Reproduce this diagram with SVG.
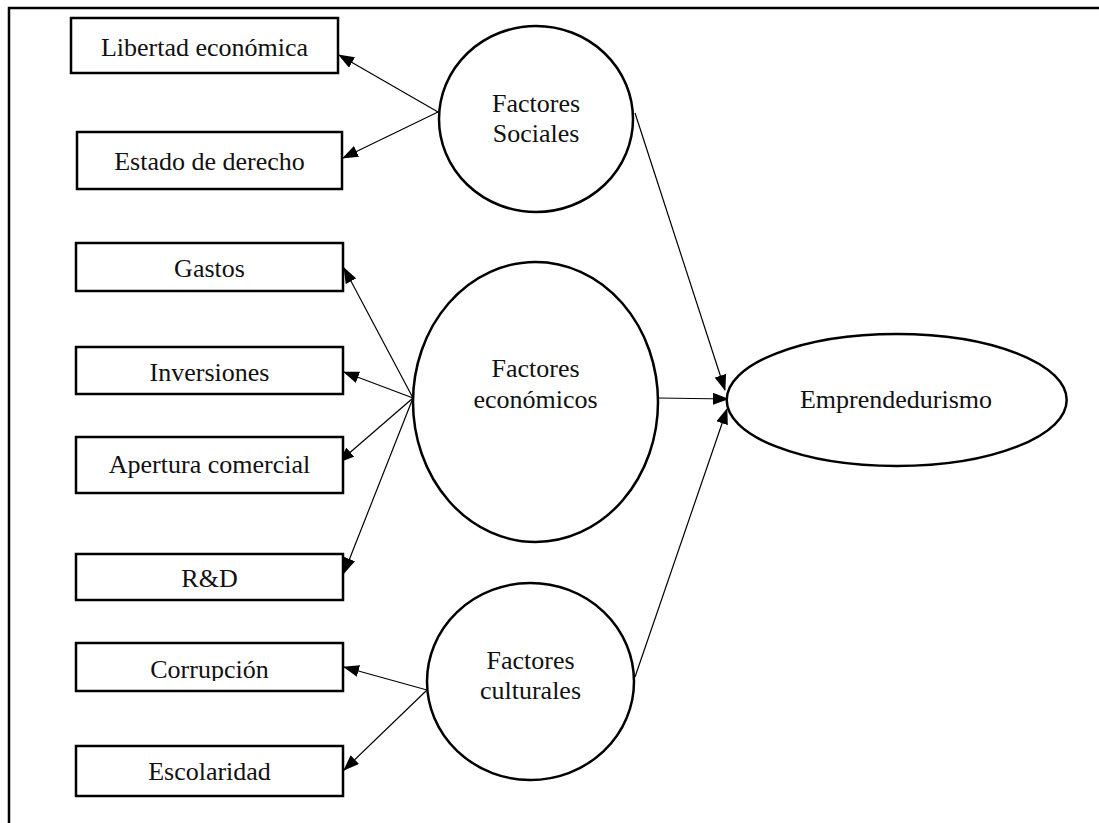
<svg xmlns="http://www.w3.org/2000/svg" width="1099" height="823" viewBox="0 0 1099 823">
<style>
.box{fill:#fff;stroke:#000;stroke-width:2.5}
.oval{fill:#fff;stroke:#000;stroke-width:2.5}
.t{font-family:"Liberation Serif","Times New Roman",serif;font-size:26px;fill:#111;text-anchor:middle}
.c{fill:none;stroke:#000;stroke-width:1.2}
</style>
<defs>
<marker id="ah" markerUnits="userSpaceOnUse" markerWidth="16" markerHeight="12" refX="15" refY="6" orient="auto">
<path d="M0,0 L16,6 L0,12 z" fill="#000"/>
</marker>
<clipPath id="clipCorr"><rect x="70" y="640" width="280" height="41"/></clipPath>
</defs>
<rect width="1099" height="823" fill="#fff"/>
<g id="frame">
<path d="M9,823 V8 H1099" fill="none" stroke="#000" stroke-width="2.5"/>
</g>
<g id="connectors">
<line class="c" x1="438" y1="112" x2="339" y2="55" marker-end="url(#ah)"/>
<line class="c" x1="438" y1="112" x2="343" y2="158" marker-end="url(#ah)"/>
<line class="c" x1="413" y1="398" x2="344" y2="268" marker-end="url(#ah)"/>
<line class="c" x1="413" y1="398" x2="344" y2="372" marker-end="url(#ah)"/>
<line class="c" x1="413" y1="398" x2="339" y2="462" marker-end="url(#ah)"/>
<line class="c" x1="413" y1="398" x2="344" y2="573" marker-end="url(#ah)"/>
<line class="c" x1="427" y1="690" x2="344" y2="667" marker-end="url(#ah)"/>
<line class="c" x1="427" y1="690" x2="344" y2="770" marker-end="url(#ah)"/>
<line class="c" x1="635" y1="113" x2="725" y2="390" marker-end="url(#ah)"/>
<line class="c" x1="658" y1="398" x2="728" y2="399" marker-end="url(#ah)"/>
<line class="c" x1="635" y1="677" x2="727" y2="409" marker-end="url(#ah)"/>
</g>
<g id="n-libertad"><rect class="box" x="71" y="18" width="267" height="55"/><text class="t" x="204.5" y="56">Libertad económica</text></g>
<g id="n-estado"><rect class="box" x="77" y="132" width="265" height="57"/><text class="t" x="209.5" y="170">Estado de derecho</text></g>
<g id="n-gastos"><rect class="box" x="76" y="243" width="267" height="48"/><text class="t" x="209.5" y="277">Gastos</text></g>
<g id="n-inversiones"><rect class="box" x="76" y="347" width="267" height="47"/><text class="t" x="209.5" y="381">Inversiones</text></g>
<g id="n-apertura"><rect class="box" x="76" y="437" width="267" height="56"/><text class="t" x="209.5" y="473">Apertura comercial</text></g>
<g id="n-rd"><rect class="box" x="76" y="554" width="267" height="46"/><text class="t" x="209.5" y="587">R&amp;D</text></g>
<g id="n-corrupcion"><rect class="box" x="76" y="643" width="267" height="48"/><text class="t" x="209.5" y="678" clip-path="url(#clipCorr)">Corrupción</text></g>
<g id="n-escolaridad"><rect class="box" x="76" y="746" width="267" height="50"/><text class="t" x="209.5" y="780">Escolaridad</text></g>
<g id="n-sociales"><ellipse class="oval" cx="536" cy="119" rx="97" ry="93"/><text class="t" x="536" y="112">Factores</text><text class="t" x="536" y="142">Sociales</text></g>
<g id="n-economicos"><ellipse class="oval" cx="535.5" cy="402" rx="122.5" ry="140"/><text class="t" x="535.5" y="377">Factores</text><text class="t" x="535.5" y="408">económicos</text></g>
<g id="n-culturales"><ellipse class="oval" cx="530.5" cy="681.5" rx="103.5" ry="98.5"/><text class="t" x="530.5" y="669">Factores</text><text class="t" x="530.5" y="699">culturales</text></g>
<g id="n-emprendedurismo"><ellipse class="oval" cx="896.7" cy="400" rx="170" ry="66"/><text class="t" x="896" y="408">Emprendedurismo</text></g>
</svg>
